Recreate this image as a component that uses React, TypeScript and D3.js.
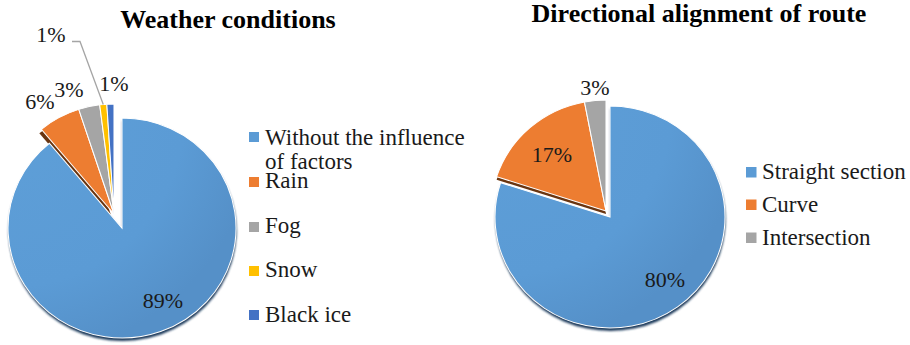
import React from 'react';
import * as d3 from 'd3';

const weatherCategories = ['Without the influence of factors', 'Rain', 'Fog', 'Snow', 'Black ice'];
const weatherValues = [89, 6, 3, 1, 1];
const weatherLabels = ['89%', '6%', '3%', '1%', '1%'];

const routeCategories = ['Straight section', 'Curve', 'Intersection'];
const routeValues = [80, 17, 3];
const routeLabels = ['80%', '17%', '3%'];

const COLORS = ['#5B9BD5', '#ED7D31', '#A5A5A5', '#FFC000', '#4472C4'];

type PieProps = {
  cx: number; cy: number; rx: number; ry: number;
  values: number[];
  labels: string[];
  labelOffsets: [number, number][];
  shift: [number, number];
  leaderIndex?: number;
  leaderFrom?: [number, number][];
  brownOffset: [number, number];
  id: string;
};

function Pie({ cx, cy, rx, ry, values, labels, labelOffsets, shift, leaderIndex, leaderFrom, brownOffset, id }: PieProps) {
  const pie = d3.pie<number>().sort(null).value(d => d);
  const arcs = pie(values);
  const arc = d3.arc<d3.PieArcDatum<number>>().innerRadius(0).outerRadius(ry);
  const k = rx / ry;
  const [sx, sy] = shift;
  let leader: string | null = null;
  if (leaderIndex !== undefined && leaderFrom) {
    const a = arcs[leaderIndex];
    const mid = (a.startAngle + a.endAngle) / 2;
    const ex = sx + rx * Math.sin(mid);
    const ey = sy - ry * Math.cos(mid);
    const pts = [...leaderFrom, [ex, ey]];
    leader = d3.line()(pts as [number, number][]);
  }
  return (
    <g transform={`translate(${cx},${cy})`}>
      <g transform={`translate(0.5,3) scale(${k},1)`} filter="url(#blurShadow)">
        <path d={arc(arcs[0]) || ''} fill="#1E3A5C" />
      </g>
      <g transform={`translate(${sx + brownOffset[0]},${sy + brownOffset[1]}) scale(${k},1)`}>
        <path d={arc(arcs[1]) || ''} fill="#6A3510" />
      </g>
      <g transform={`scale(${k},1)`}>
        <path d={arc(arcs[0]) || ''} fill={`url(#grad-${id})`} stroke="#fff" strokeWidth={1} />
      </g>
      <g transform={`translate(${sx},${sy}) scale(${k},1)`}>
        {arcs.slice(1).map((a, i) => (
          <path key={i} d={arc(a) || ''} fill={COLORS[i + 1]} stroke="#fff" strokeWidth={1} />
        ))}
      </g>
      {leader && <path d={leader} fill="none" stroke="#A5A5A5" strokeWidth={1.3} />}
      {labels.map((t, i) => (
        <text key={i} className="ser" x={labelOffsets[i][0]} y={labelOffsets[i][1]} textAnchor="middle"
          fontSize={22} fill="#1a1a1a">{t}</text>
      ))}
    </g>
  );
}

export default function App() {
  const leftLegend = [
    { lines: ['Without the influence', 'of factors'], sq: 132, base: 145 },
    { lines: [weatherCategories[1]], sq: 177, base: 188 },
    { lines: [weatherCategories[2]], sq: 222, base: 233 },
    { lines: [weatherCategories[3]], sq: 266, base: 277 },
    { lines: [weatherCategories[4]], sq: 310, base: 322 },
  ];
  const rightLegendY = [167, 199.5, 232.5];
  return (
    <div style={{ position: 'absolute', left: 0, top: 0, width: 910, height: 345, fontFamily: '"Liberation Serif"' }}>
      <style>{`.ser { font-family: "Liberation Serif", "Times New Roman", Tinos; }`}</style>
      <svg width={910} height={345} style={{ display: 'block' }}>
        <defs>
          <filter id="blurShadow" x="-10%" y="-10%" width="120%" height="130%">
            <feGaussianBlur stdDeviation={1.2} />
          </filter>
          {['w', 'r'].map(id => (
            <radialGradient key={id} id={`grad-${id}`} cx="0%" cy="0%" r="110%" gradientUnits="objectBoundingBox">
              <stop offset="0%" stopColor="#5E9FD8" />
              <stop offset="70%" stopColor="#5B9BD5" />
              <stop offset="100%" stopColor="#5590C8" />
            </radialGradient>
          ))}
        </defs>
        <text className="ser" x={228} y={28} textAnchor="middle" fontWeight="bold" fontSize={26} fill="#000">Weather conditions</text>
        <text className="ser" x={699} y={22} textAnchor="middle" fontWeight="bold" fontSize={26} fill="#000">Directional alignment of route</text>

        <Pie id="w" cx={122} cy={228} rx={114} ry={110}
          values={weatherValues} labels={weatherLabels}
          labelOffsets={[[41, 80], [-82, -119], [-53, -131], [-71, -186], [-8, -137]]}
          shift={[-8, -14]}
          leaderIndex={3}
          leaderFrom={[[-50, -186.5], [-42, -186.5]]}
          brownOffset={[-2, 4]} />

        <Pie id="r" cx={610} cy={217} rx={115} ry={111}
          values={routeValues} labels={routeLabels}
          labelOffsets={[[55, 70], [-58, -55], [-15, -122]]}
          shift={[-4, -6]}
          brownOffset={[0, 3]} />

        {leftLegend.map((d, i) => (
          <g key={i}>
            <rect x={249} y={d.sq} width={10} height={10} fill={COLORS[i]} />
            {d.lines.map((l, j) => (
              <text key={j} className="ser" x={265} y={d.base + j * 23.5} fontSize={23} fill="#1a1a1a">{l}</text>
            ))}
          </g>
        ))}
        {routeCategories.map((c, i) => (
          <g key={i}>
            <rect x={746} y={rightLegendY[i]} width={10.5} height={10.5} fill={COLORS[i]} />
            <text className="ser" x={762} y={rightLegendY[i] + 12} fontSize={23} fill="#1a1a1a">{c}</text>
          </g>
        ))}
      </svg>
    </div>
  );
}
